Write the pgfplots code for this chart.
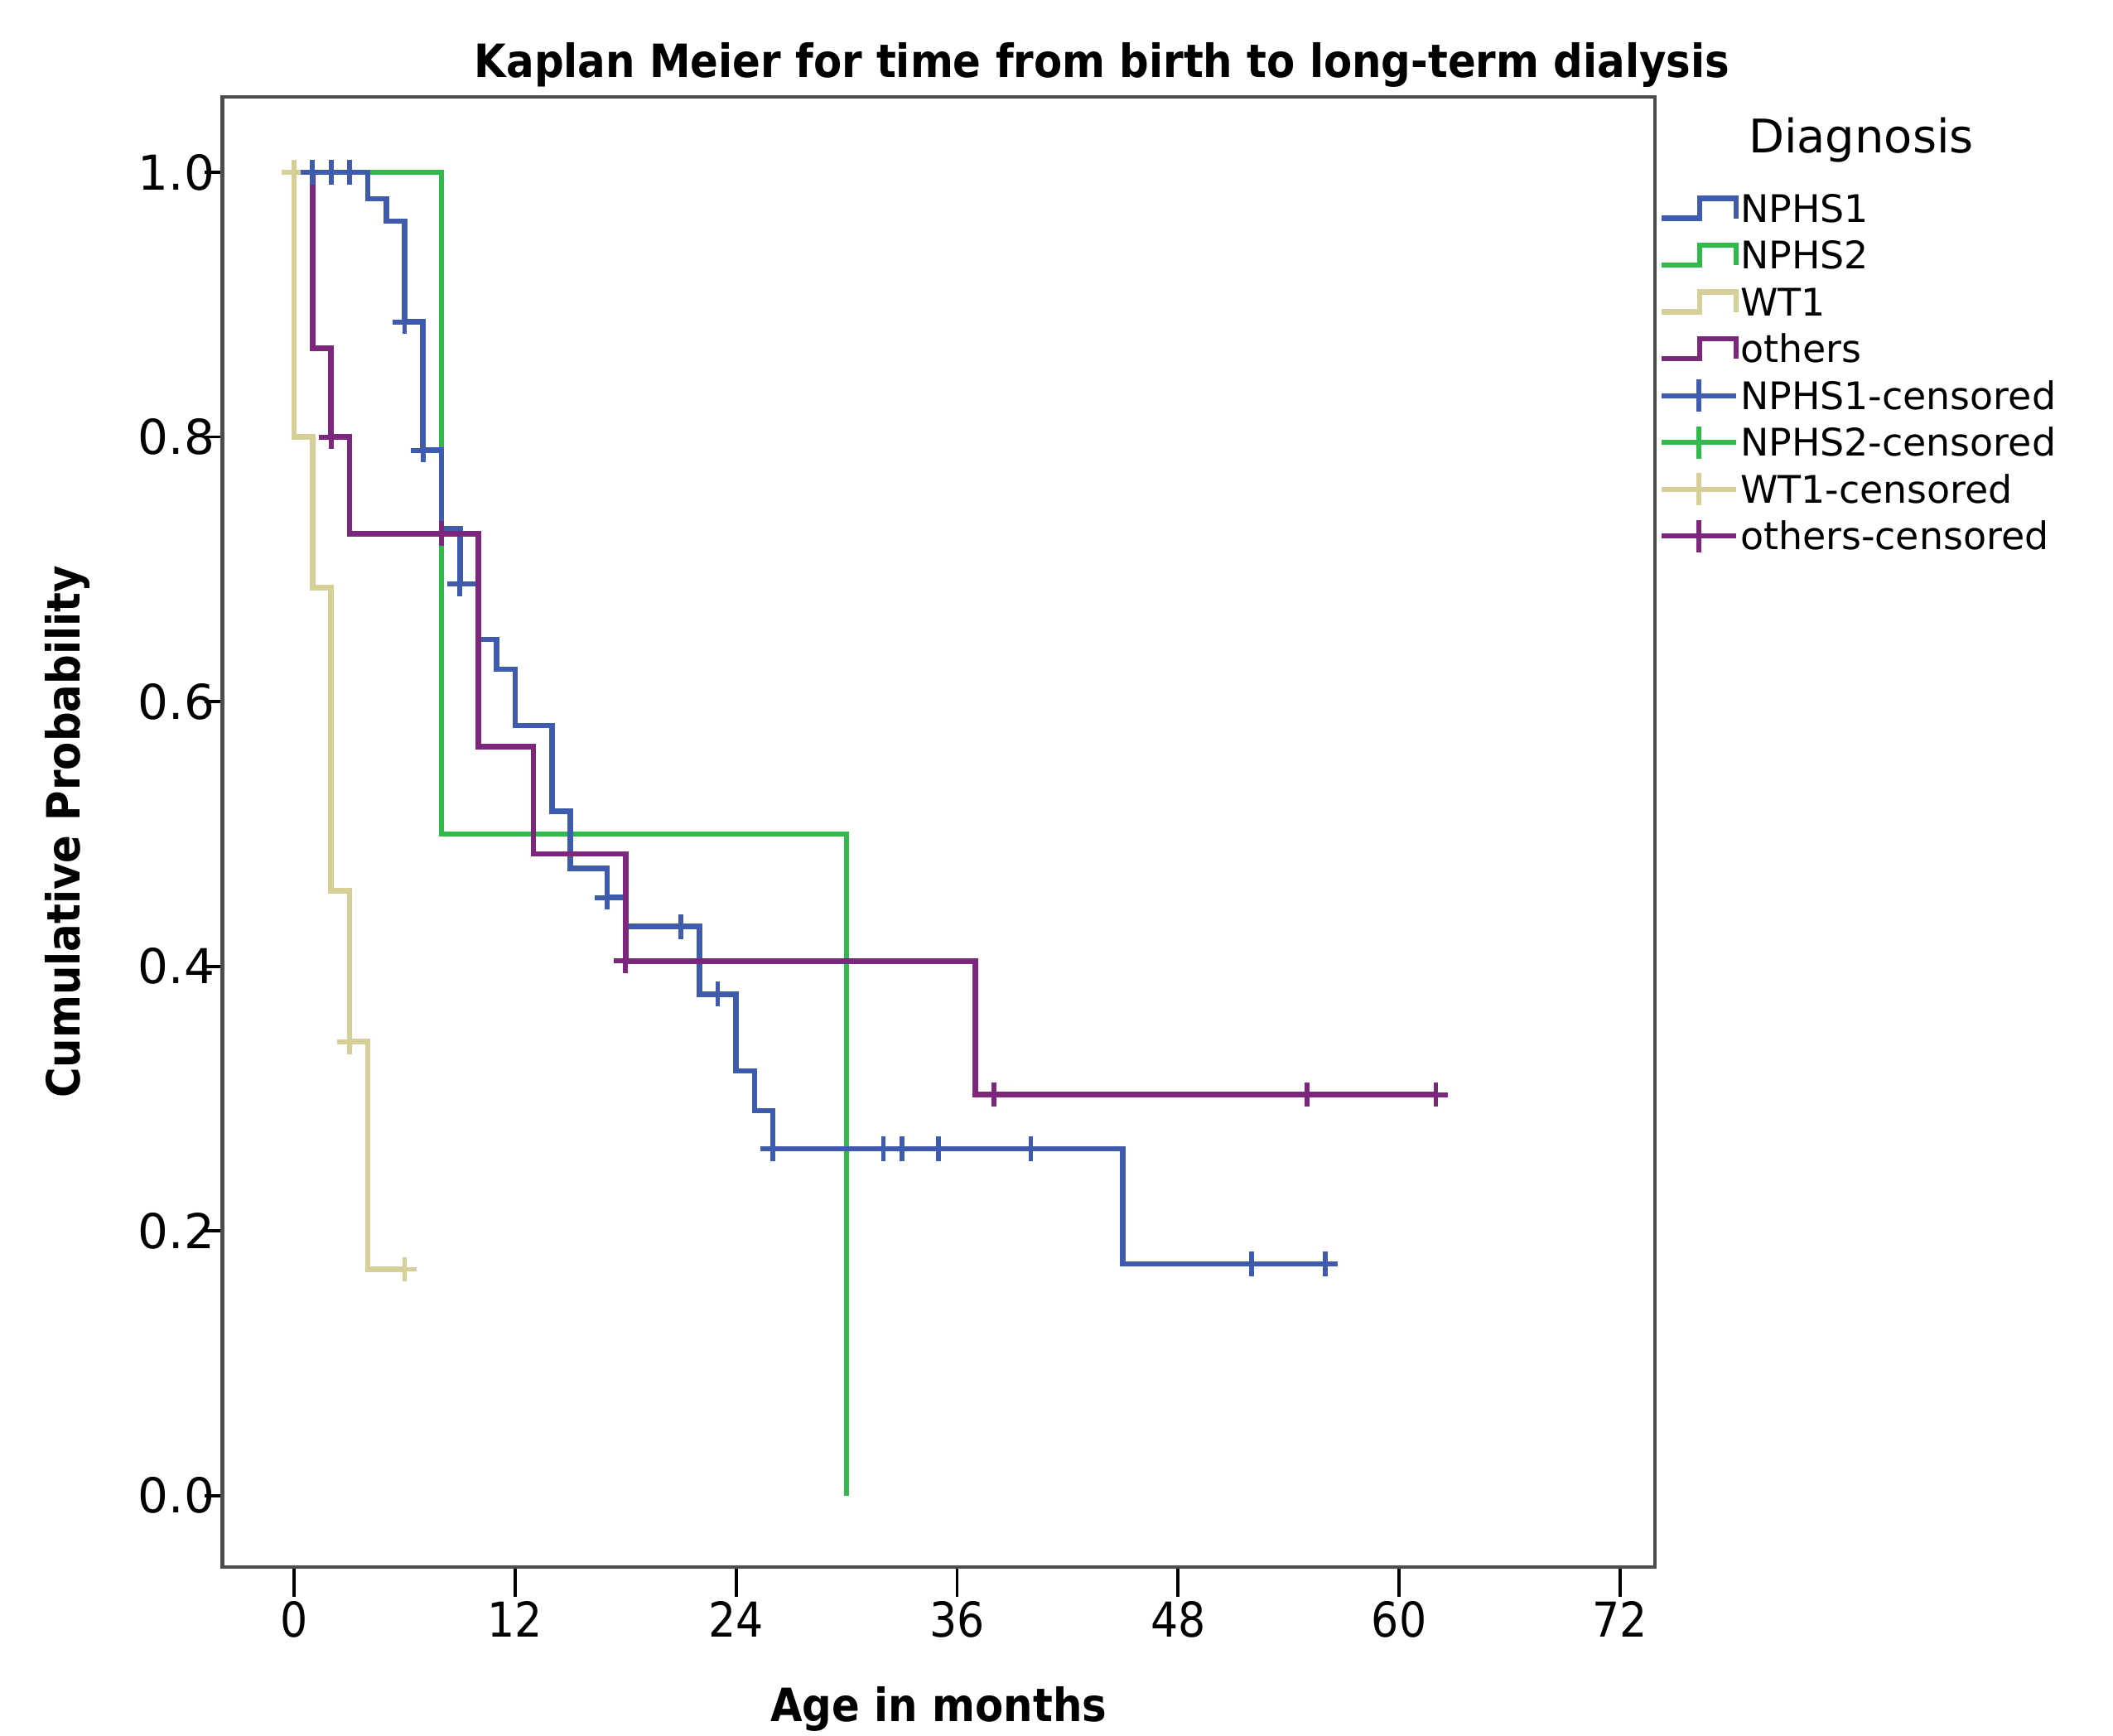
\documentclass[border=0pt]{standalone}
\usepackage{fontspec}
\setmainfont{DejaVu Sans}
\newfontfamily\condf{DejaVu Sans Condensed}
\usepackage{pgfplots}
\pgfplotsset{compat=1.18}

\definecolor{kmblue}{RGB}{63,91,174}
\definecolor{kmgreen}{RGB}{50,185,75}
\definecolor{kmtan}{RGB}{214,207,152}
\definecolor{kmpurple}{RGB}{124,38,124}

\pgfplotsset{
  kmstep/.style={legend image code/.code={%
    \draw[##1] (0cm,-0.08cm) -- (0.31cm,-0.08cm) -- (0.31cm,0.08cm) -- (0.6cm,0.08cm) -- (0.6cm,-0.08cm);}},
  kmcens/.style={legend image code/.code={%
    \draw[##1] (0cm,0cm) -- (0.6cm,0cm);
    \draw[##1] (0.3cm,-0.13cm) -- (0.3cm,0.13cm);}},
  curve/.style={const plot, line width=1.25pt, #1},
  cens/.style={only marks, mark=+, mark size=2.8pt, mark options={line width=1.1pt}, #1},
}

\begin{document}
\begin{tikzpicture}
\begin{axis}[
  name=ax, scale only axis,
  width=11.526cm, height=11.829cm,
  xmin=-3.9, xmax=73.9, ymin=-0.054, ymax=1.057,
  xtick={0,12,24,36,48,60,72}, ytick={0,0.2,0.4,0.6,0.8,1.0},
  tick align=outside, xtick pos=bottom, ytick pos=left,
  xtick style={/pgfplots/major tick length=0.24cm},
  ytick style={/pgfplots/major tick length=0.14cm},
  tick style={black, line width=0.7pt},
  axis line style={draw=black!70, line width=0.9pt},
  /pgf/number format/assume math mode=true,
  yticklabel style={/pgf/number format/.cd, fixed, fixed zerofill, precision=1, /tikz/.cd,
    font=\fontsize{11}{13}\selectfont, inner sep=0.7pt, xshift=0.12cm},
  xticklabel style={font=\condf\fontsize{11}{13}\selectfont},
  every axis title shift=0pt,
  title={Kaplan Meier for time from birth to long-term dialysis},
  title style={at={(axis description cs:0.614,1.013)}, anchor=base,
    font=\condf\bfseries\fontsize{10.5}{12}\selectfont},
  xlabel={Age in months},
  xlabel style={at={(axis description cs:0.5,-0.105)}, anchor=base,
    font=\condf\bfseries\fontsize{10.5}{12}\selectfont},
  ylabel={Cumulative Probability},
  ylabel style={at={(axis description cs:-0.108,0.5)}, anchor=center,
    font=\condf\bfseries\fontsize{10.5}{12}\selectfont},
  legend style={at={(axis description cs:1.002,0.941)}, anchor=north west,
    draw=none, fill=none, inner sep=0pt, row sep=-0.2pt,
    font=\fontsize{8.7}{10}\selectfont,
    nodes={inner sep=0.4pt, text height=1.5ex, text depth=0.35ex}},
  legend cell align=left,
]
% NPHS2
\addplot[curve=kmgreen, forget plot] coordinates {(0,1.0)(8,0.5)(30,0.0)};
% WT1
\addplot[curve=kmtan, forget plot] coordinates {(0,1.0)(0,0.8)(1,0.686)(2,0.457)(3,0.343)(4,0.171)(6,0.171)};
\addplot[cens=kmtan, forget plot] coordinates {(0,1.0)(3,0.343)(6,0.171)};
% NPHS1
\addplot[curve=kmblue, forget plot] coordinates {(0,1.0)(4,0.980)(5,0.963)(6,0.887)(7,0.790)(8,0.731)(9,0.689)(10,0.647)(11,0.6245)(12,0.582)(14,0.517)(15,0.474)(17,0.452)(18,0.430)(22,0.379)(24,0.321)(25,0.291)(26,0.262)(45,0.175)(56,0.175)};
\addplot[cens=kmblue, forget plot] coordinates {(1,1.0)(2,1.0)(3,1.0)(6,0.887)(7,0.790)(9,0.689)(17,0.452)(21,0.430)(23,0.379)(26,0.262)(32,0.262)(33,0.262)(35,0.262)(40,0.262)(52,0.175)(56,0.175)};
% others
\addplot[curve=kmpurple, forget plot] coordinates {(0,1.0)(1,0.867)(2,0.8)(3,0.727)(10,0.566)(13,0.485)(18,0.404)(37,0.303)(62,0.303)};
\addplot[cens=kmpurple, forget plot] coordinates {(2,0.8)(8,0.727)(18,0.404)(38,0.303)(55,0.303)(62,0.303)};

\addlegendimage{kmstep, kmblue, line width=1.2pt}\addlegendentry{NPHS1}
\addlegendimage{kmstep, kmgreen, line width=1.2pt}\addlegendentry{NPHS2}
\addlegendimage{kmstep, kmtan, line width=1.2pt}\addlegendentry{WT1}
\addlegendimage{kmstep, kmpurple, line width=1.2pt}\addlegendentry{others}
\addlegendimage{kmcens, kmblue, line width=1.2pt}\addlegendentry{NPHS1-censored}
\addlegendimage{kmcens, kmgreen, line width=1.2pt}\addlegendentry{NPHS2-censored}
\addlegendimage{kmcens, kmtan, line width=1.2pt}\addlegendentry{WT1-censored}
\addlegendimage{kmcens, kmpurple, line width=1.2pt}\addlegendentry{others-censored}
\end{axis}
\node[font=\fontsize{10.6}{12}\selectfont] at ([shift={(1.659cm,-0.347cm)}]ax.north east) {Diagnosis};
\pgfresetboundingbox
\path[use as bounding box] ([shift={(-1.789cm,-1.353cm)}]ax.south west) rectangle ([shift={(3.685cm,0.780cm)}]ax.north east);
\end{tikzpicture}
\end{document}
